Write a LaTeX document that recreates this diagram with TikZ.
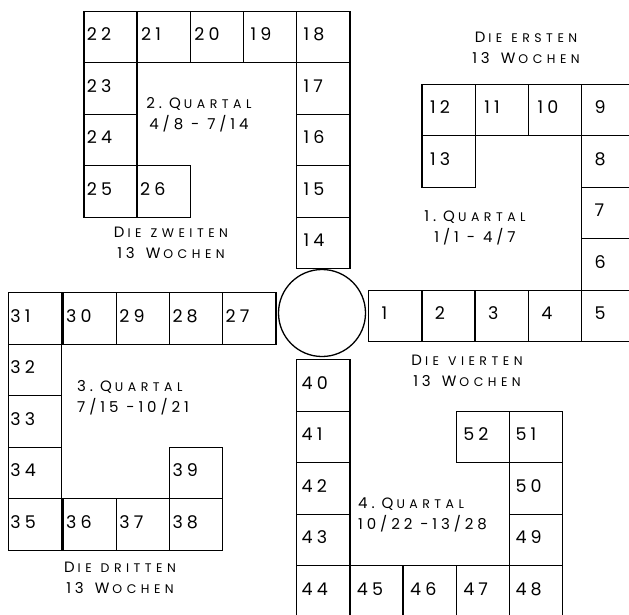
\documentclass[tikz,border=0pt]{standalone}
\usepackage{fontspec}
\setmainfont{Poppins}
\newcommand{\cellfont}{\fontsize{17.5}{18}\selectfont\addfontfeatures{LetterSpace=24}}
\newcommand{\labfont}{\fontsize{15}{21}\selectfont\addfontfeatures{LetterSpace=26}}
\newcommand{\smc}[1]{{\fontsize{12.5}{21}\selectfont\addfontfeatures{LetterSpace=36}#1}}
\newcommand{\ws}{\hspace{9pt}}
\newcommand{\wn}{\hspace{11pt}}
\newcommand{\wq}{\hspace{7pt}}
\newcommand{\lgap}{\hspace{3pt}}
\tikzset{
  cellbox/.style={draw, line width=1.4pt, anchor=north west, minimum height=51.5pt,
    inner ysep=0pt, inner xsep=0pt, text width=53.2pt, align=left, font=\cellfont},
  lab/.style={font=\labfont, align=center, inner sep=0pt},
  labl/.style={font=\labfont, align=left, inner sep=0pt, anchor=west},
}
\newcommand{\cell}[5]{\node[cellbox] (c#1) at (#2,#3) {\hspace*{#5pt}\raisebox{2.5pt}[\height][\depth]{#4}};}
\begin{document}
\begin{tikzpicture}[x=1pt,y=-1pt]
\useasboundingbox (0,0) rectangle (629,614);
\clip (0,0) rectangle (629,614);
% centre circle
\node[draw, circle, line width=1.3pt, minimum size=87pt, inner sep=0pt] (start) at (322,313) {};
% Quarter 1
\cell{1}{368}{289.5}{1}{13}
\cell{2}{421.2}{289.5}{2}{13}
\cell{3}{474.4}{289.5}{3}{13}
\cell{4}{527.6}{289.5}{4}{13}
\cell{5}{581}{289.5}{5}{13}
\cell{6}{581}{238}{6}{13}
\cell{7}{581}{186.5}{7}{13}
\cell{8}{581}{135}{8}{13}
\cell{9}{581}{83.5}{9}{13}
\cell{10}{527.8}{83.5}{10}{9}
\cell{11}{474.6}{83.5}{11}{9}
\cell{12}{421.4}{83.5}{12}{8}
\cell{13}{421.4}{135}{13}{8}
% Quarter 2
\cell{14}{296}{216.5}{14}{7}
\cell{15}{296}{165}{15}{7}
\cell{16}{296}{113.5}{16}{7}
\cell{17}{296}{62}{17}{7}
\cell{18}{296}{10.5}{18}{7}
\cell{19}{242.8}{10.5}{19}{7}
\cell{20}{189.6}{10.5}{20}{4}
\cell{21}{136.4}{10.5}{21}{4}
\cell{22}{83.2}{10.5}{22}{3}
\cell{23}{83.2}{62}{23}{3}
\cell{24}{83.2}{113.5}{24}{3}
\cell{25}{83.2}{165}{25}{3}
\cell{26}{136.4}{165}{26}{3}
% Quarter 3
\cell{27}{222}{292}{27}{3}
\cell{28}{168.8}{292}{28}{3}
\cell{29}{115.6}{292}{29}{3}
\cell{30}{62.4}{292}{30}{3}
\cell{31}{7.6}{292}{31}{2}
\cell{32}{7.6}{343.5}{32}{2}
\cell{33}{7.6}{395}{33}{2}
\cell{34}{7.6}{446.5}{34}{2}
\cell{35}{7.6}{498}{35}{2}
\cell{36}{62.4}{498}{36}{3}
\cell{37}{115.6}{498}{37}{3}
\cell{38}{168.8}{498}{38}{3}
\cell{39}{168.8}{446.5}{39}{3}
% Quarter 4
\cell{40}{296}{359}{40}{5}
\cell{41}{296}{410.5}{41}{5}
\cell{42}{296}{462}{42}{5}
\cell{43}{296}{513.5}{43}{5}
\cell{44}{296}{565}{44}{5}
\cell{45}{349.2}{565}{45}{7}
\cell{46}{402.4}{565}{46}{7}
\cell{47}{455.6}{565}{47}{7}
\cell{48}{508.8}{565}{48}{6}
\cell{49}{508.8}{513.5}{49}{6}
\cell{50}{508.8}{462}{50}{6}
\cell{51}{508.8}{410.5}{51}{6}
\cell{52}{455.6}{410.5}{52}{7}
% labels
\node[lab] (l1a) at (526,48) {D\lgap\smc{IE\ws ERSTEN}\\13\wn W\lgap\smc{OCHEN}};
\node[lab] (l1b) at (475,228) {1.\wq Q\lgap\smc{UARTAL}\\1/1 - 4/7};
\node[lab] (l2a) at (199,115) {2.\wq Q\lgap\smc{UARTAL}\\4/8 - 7/14};
\node[lab] (l2b) at (171,243) {D\lgap\smc{IE\ws ZWEITEN}\\13\wn W\lgap\smc{OCHEN}};
\node[labl] (l3a) at (77,398) {3.\wq Q\lgap\smc{UARTAL}\\7/15 -10/21};
\node[lab] (l3b) at (120,578) {D\lgap\smc{IE\ws DRITTEN}\\13\wn W\lgap\smc{OCHEN}};
\node[lab] (l4a) at (467,371) {D\lgap\smc{IE\ws VIERTEN}\\13\wn W\lgap\smc{OCHEN}};
\node[labl] (l4b) at (358,515) {4.\wq Q\lgap\smc{UARTAL}\\10/22 -13/28};
\end{tikzpicture}
\end{document}
